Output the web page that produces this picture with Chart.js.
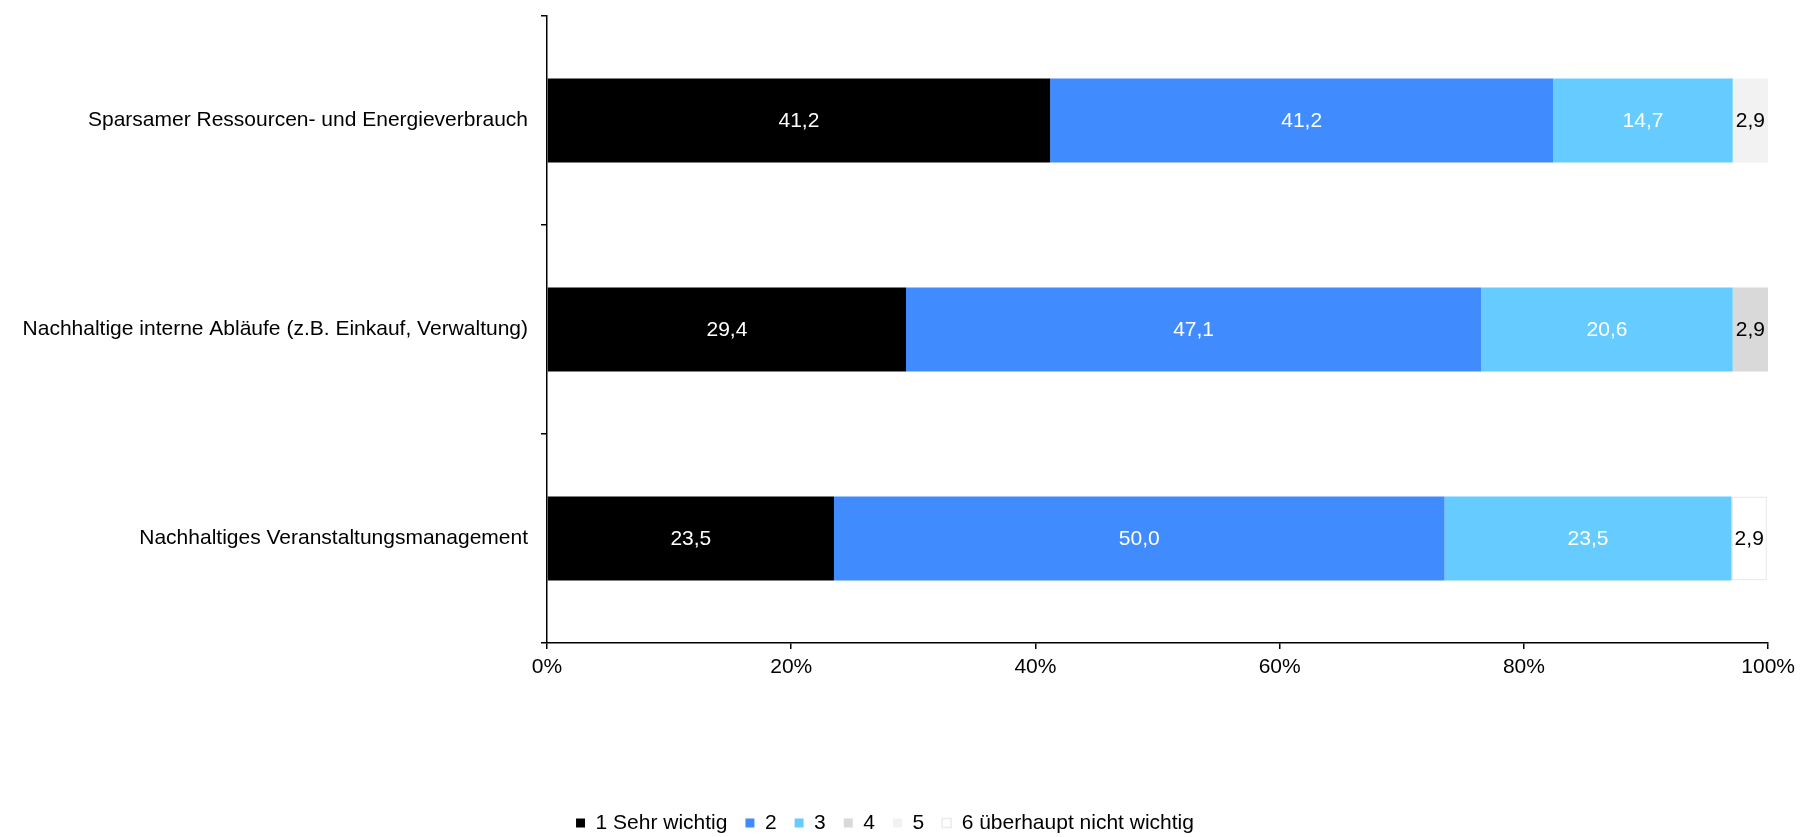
<!DOCTYPE html>
<html>
<head>
<meta charset="utf-8">
<title>Wichtigkeit Nachhaltigkeit</title>
<script src="https://cdn.jsdelivr.net/npm/chart.js@4.4.1/dist/chart.umd.min.js"></script>
<style>
    html, body { margin: 0; padding: 0; background: #fff; overflow: hidden; }
    #chartWrap { width: 1801px; height: 837px; }
</style>
</head>
<body>
<div id="chartWrap"><canvas id="myChart" width="1801" height="837"></canvas></div>
<script>
// categories (top to bottom)
const categories = [
    'Sparsamer Ressourcen- und Energieverbrauch',
    'Nachhaltige interne Abläufe (z.B. Einkauf, Verwaltung)',
    'Nachhaltiges Veranstaltungsmanagement'
];

// legend names
const seriesNames = ['1 Sehr wichtig', '2', '3', '4', '5', '6 überhaupt nicht wichtig'];

// values in percent, one array per answer
const sehrWichtig = [41.2, 29.4, 23.5];
const wert2 = [41.2, 47.1, 50.0];
const wert3 = [14.7, 20.6, 23.5];
const wert4 = [0, 2.9, 0];
const wert5 = [2.9, 0, 0];
const nichtWichtig = [0, 0, 2.9];

// x axis ticks
const xTicks = [0, 20, 40, 60, 80, 100];

const seriesValues = [sehrWichtig, wert2, wert3, wert4, wert5, nichtWichtig];
const barColors = ['#000000', '#408CFF', '#66CCFF', '#D9D9D9', '#F2F2F2', '#FFFFFF'];
const labelColors = ['#FFFFFF', '#FFFFFF', '#FFFFFF', '#000000', '#000000', '#000000'];

const FONT = "'Liberation Sans', Arial, sans-serif";
Chart.defaults.font.family = FONT;
Chart.defaults.font.size = 21;
Chart.defaults.color = '#000';

// writes the value in the middle of every segment
const segmentLabels = {
    id: 'segmentLabels',
    afterDatasetsDraw(chart) {
        const ctx = chart.ctx;
        ctx.save();
        ctx.font = '21px ' + FONT;
        ctx.textAlign = 'center';
        ctx.textBaseline = 'middle';
        chart.data.datasets.forEach((ds, i) => {
            const meta = chart.getDatasetMeta(i);
            meta.data.forEach((bar, j) => {
                const v = ds.data[j];
                if (!v) return;
                const p = bar.getCenterPoint();
                ctx.fillStyle = labelColors[i];
                ctx.fillText(v.toFixed(1).replace('.', ','), p.x, p.y + 1);
            });
        });
        ctx.restore();
    }
};

// moves the legend a bit lower than chart.js puts it
const legendShift = {
    id: 'legendShift',
    afterLayout(chart) {
        if (chart.legend) {
            chart.legend.top += 6.5;
            chart.legend.bottom += 6.5;
        }
    }
};

const datasets = seriesNames.map((name, i) => ({
    label: name,
    data: seriesValues[i],
    backgroundColor: barColors[i],
    borderColor: i === 5 ? '#EBEBEB' : barColors[i],
    borderWidth: i === 5 ? 1.5 : 0,
    borderSkipped: false,
    barPercentage: 0.402,
    categoryPercentage: 1.0
}));

new Chart(document.getElementById('myChart'), {
    type: 'bar',
    data: { labels: categories, datasets: datasets },
    options: {
        indexAxis: 'y',
        responsive: false,
        animation: false,
        layout: { padding: { top: 16, right: 31, left: 0, bottom: 0 } },
        plugins: {
            legend: {
                position: 'bottom',
                labels: {
                    boxWidth: 9,
                    boxHeight: 9,
                    padding: 18,
                    color: '#000',
                    font: { size: 21 }
                }
            },
            tooltip: { enabled: false }
        },
        scales: {
            x: {
                stacked: true,
                min: 0,
                max: 100,
                afterBuildTicks: (scale) => {
                    scale.ticks = xTicks.map(v => ({ value: v }));
                },
                ticks: {
                    callback: (v) => v + '%',
                    padding: 6,
                    maxRotation: 0,
                    font: { size: 21 }
                },
                grid: { drawOnChartArea: false, drawTicks: true, tickLength: 6, color: '#000', lineWidth: 1.5 },
                border: { display: true, color: '#000', width: 1.5 },
                afterFit: (scale) => { scale.height = 145; }
            },
            y: {
                stacked: true,
                ticks: { padding: 13, font: { size: 21 } },
                grid: { offset: true, drawOnChartArea: false, drawTicks: true, tickLength: 6, color: '#000', lineWidth: 1.5 },
                border: { display: true, color: '#000', width: 1.5 },
                afterFit: (scale) => {
                    scale.width = 547;
                    scale.paddingTop = 0;
                    scale.paddingBottom = 0;
                }
            }
        }
    },
    plugins: [segmentLabels, legendShift]
});
</script>
</body>
</html>
